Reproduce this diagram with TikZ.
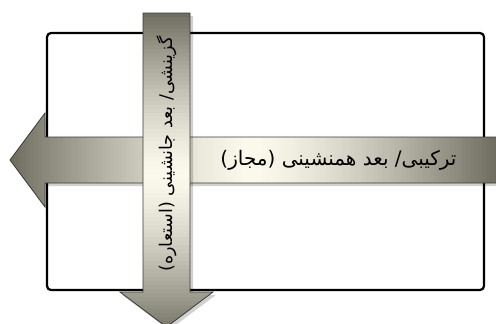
\documentclass[tikz,border=0pt]{standalone}
\usepackage{fontspec}
\newfontfamily\arabicfont[Script=Arabic]{DejaVu Sans}
\TeXXeTstate=1
\definecolor{arrdark}{HTML}{6E6D60}
\definecolor{arrlight}{HTML}{FBFAEC}
\definecolor{arredge}{HTML}{3A3A34}
\tikzset{
  frame/.style={draw=black, line width=2.2pt, rounded corners=4pt, fill=white},
  arrowshape/.style={draw=arredge, line width=0.8pt},
  shadowshape/.style={fill=black, opacity=0.18},
  label/.style={text=black, inner sep=0pt}
}
\begin{document}
\begin{tikzpicture}[x=1pt,y=-1pt]
\useasboundingbox (0,0) rectangle (496,324);
% frame
\draw[frame] (47,33) rectangle (484,290);
% horizontal arrow
\fill[shadowshape] (12,163) -- (47,116) -- (47,140) -- (500,140) -- (500,186) -- (47,186) -- (47,210) -- cycle;
\begin{scope}
  \clip (10,160) -- (45,113) -- (45,137) -- (500,137) -- (500,183) -- (45,183) -- (45,207) -- cycle;
  \foreach \i in {0,...,122} {
    \pgfmathsetmacro\xa{10+4*\i}
    \pgfmathsetmacro\tt{min(1,abs(\xa+2-253)/243)}
    \pgfmathtruncatemacro\pp{100*(1-\tt^1.4)}
    \fill[arrlight!\pp!arrdark] (\xa,100) rectangle (\xa+4.4,220);
  }
\end{scope}
\draw[arrowshape] (10,160) -- (45,113) -- (45,137) -- (500,137) -- (500,183) -- (45,183) -- (45,207) -- cycle;
\node[label, font=\arabicfont\fontsize{20}{23}\selectfont] (hlabel) at (338.5,160) {\beginR ترکیبی/ بعد همنشینی (مجاز)\endR};
% vertical arrow
\fill[shadowshape] (146,16) -- (193,16) -- (193,295) -- (216,295) -- (169,330) -- (122,295) -- (146,295) -- cycle;
\begin{scope}
  \clip (143,13) -- (190,13) -- (190,292) -- (213,292) -- (166.5,327) -- (120,292) -- (143,292) -- cycle;
  \foreach \i in {0,...,79} {
    \pgfmathsetmacro\ya{13+4*\i}
    \pgfmathsetmacro\tt{min(1,abs(\ya+2-175)/162)}
    \pgfmathtruncatemacro\pp{100*(1-\tt^1.4)}
    \fill[arrlight!\pp!arrdark] (110,\ya) rectangle (220,\ya+4.4);
  }
\end{scope}
\draw[arrowshape] (143,13) -- (190,13) -- (190,292) -- (213,292) -- (166.5,327) -- (120,292) -- (143,292) -- cycle;
\node[label, rotate=90, font=\arabicfont\fontsize{17.5}{20}\selectfont] (vlabel) at (166.5,154) {\beginR گزینشی/ بعد جانشینی (استعاره)\endR};
\end{tikzpicture}
\end{document}
